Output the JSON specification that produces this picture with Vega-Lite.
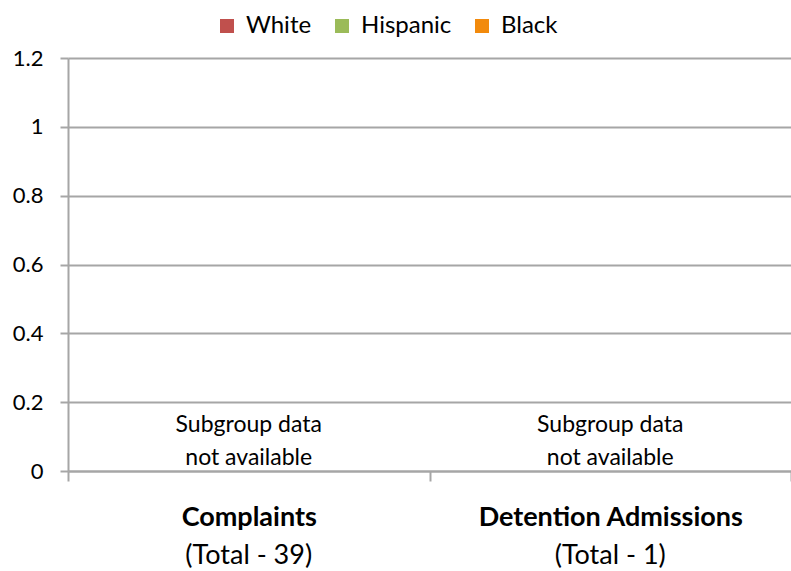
{
  "$schema": "https://vega.github.io/schema/vega-lite/v6.json",
  "width": 723,
  "height": 413,
  "autosize": "none",
  "padding": {"left": 68, "top": 58, "right": 0, "bottom": 100},
  "config": {
    "font": "Lato",
    "view": {"stroke": null},
    "axis": {"labelColor": "#000000", "domainColor": "#A6A6A6", "tickColor": "#A6A6A6", "domainWidth": 2, "tickWidth": 2}
  },
  "datasets": {
    "counts": [
      {"category": "Complaints|(Total - 39)", "race": "White", "value": 0},
      {"category": "Complaints|(Total - 39)", "race": "Hispanic", "value": 0},
      {"category": "Complaints|(Total - 39)", "race": "Black", "value": 0},
      {"category": "Detention Admissions|(Total - 1)", "race": "White", "value": 0},
      {"category": "Detention Admissions|(Total - 1)", "race": "Hispanic", "value": 0},
      {"category": "Detention Admissions|(Total - 1)", "race": "Black", "value": 0}
    ],
    "notes": [
      {"category": "Complaints|(Total - 39)", "value": 0, "note": "Subgroup data\nnot available"},
      {"category": "Detention Admissions|(Total - 1)", "value": 0, "note": "Subgroup data\nnot available"}
    ]
  },
  "layer": [
    {
      "data": {"name": "counts"},
      "mark": {"type": "bar"},
      "encoding": {
        "x": {
          "field": "category", "type": "nominal", "sort": null,
          "scale": {"paddingInner": 0, "paddingOuter": 0},
          "axis": {
            "title": null, "orient": "bottom",
            "labelExpr": "indexof(datum.label, '|') >= 0 ? split(datum.label, '|')[0] : ''",
            "labelFontWeight": "bold", "labelFontSize": 27, "labelAngle": 0,
            "labelBaseline": "top", "labelLimit": 0,
            "tickBand": "extent", "tickSize": 10, "labelPadding": 23, "grid": false
          }
        },
        "xOffset": {"field": "race", "sort": ["White", "Hispanic", "Black"]},
        "y": {
          "field": "value", "type": "quantitative",
          "scale": {"domain": [0, 1.2], "nice": false},
          "axis": {
            "title": null, "values": [0, 0.2, 0.4, 0.6, 0.8, 1, 1.2], "format": "~g",
            "grid": true, "gridColor": "#A6A6A6", "gridWidth": 2,
            "tickSize": 8, "labelPadding": 17, "labelFontSize": 22
          }
        },
        "color": {
          "field": "race", "type": "nominal",
          "sort": ["White", "Hispanic", "Black"],
          "scale": {"domain": ["White", "Hispanic", "Black"], "range": ["#C0504D", "#9BBB59", "#F28A0C"]},
          "legend": {
            "title": null, "orient": "none", "legendX": 147, "legendY": -44,
            "direction": "horizontal", "columns": 3, "symbolType": "square", "symbolSize": 196,
            "symbolStrokeWidth": 0, "symbolOpacity": 1, "labelFontSize": 24, "labelColor": "#000000",
            "labelOffset": 7, "columnPadding": 18, "padding": 0, "gridAlign": "each"
          }
        }
      }
    },
    {
      "data": {"name": "notes"},
      "mark": {"type": "text", "lineBreak": "\n", "baseline": "bottom", "dy": -34, "fontSize": 23, "lineHeight": 33, "color": "#000000"},
      "encoding": {
        "x": {
          "field": "category", "type": "nominal", "sort": null,
          "axis": {
            "title": null, "orient": "bottom",
            "labelExpr": "indexof(datum.label, '|') >= 0 ? split(datum.label, '|')[1] : ''",
            "labelFontSize": 27, "labelAngle": 0, "labelBaseline": "top", "labelLimit": 0,
            "ticks": false, "tickSize": 0, "domain": false, "labelPadding": 71, "grid": false
          }
        },
        "y": {"field": "value", "type": "quantitative"},
        "text": {"field": "note"}
      }
    }
  ],
  "resolve": {"axis": {"x": "independent"}}
}
